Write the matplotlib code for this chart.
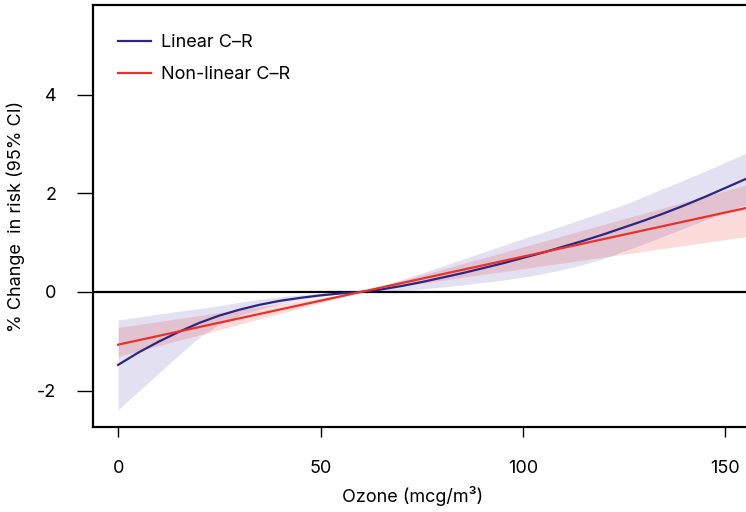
import matplotlib
matplotlib.use("Agg")
import matplotlib.pyplot as plt

plt.rcParams['font.family'] = ['Inter', 'DejaVu Sans']

# ---- data ----
ozone = [0, 5, 10, 15, 20, 25, 30, 35, 40, 45, 50, 55, 60, 65, 70, 75, 80,
         85, 90, 95, 100, 105, 110, 115, 120, 125, 130, 135, 140, 145, 150, 155]
linear_est = [-1.48, -1.23, -1.01, -0.81, -0.63, -0.48, -0.36, -0.26, -0.18, -0.12,
              -0.07, -0.03, 0.00, 0.05, 0.12, 0.20, 0.29, 0.38, 0.48, 0.58, 0.69,
              0.80, 0.92, 1.04, 1.17, 1.31, 1.45, 1.60, 1.76, 1.93, 2.11, 2.29]
linear_hi = [-0.57, -0.51, -0.45, -0.39, -0.34, -0.28, -0.21, -0.15, -0.10, -0.06,
             -0.03, -0.01, 0.00, 0.12, 0.25, 0.38, 0.52, 0.66, 0.80, 0.94, 1.08,
             1.21, 1.35, 1.49, 1.63, 1.77, 1.94, 2.11, 2.28, 2.45, 2.63, 2.81]
linear_lo = [-2.39, -2.02, -1.65, -1.28, -0.92, -0.66, -0.48, -0.35, -0.24, -0.16,
             -0.09, -0.04, 0.00, 0.01, 0.03, 0.06, 0.10, 0.14, 0.19, 0.24, 0.30,
             0.37, 0.46, 0.56, 0.68, 0.83, 0.98, 1.14, 1.30, 1.46, 1.62, 1.77]

ozone_nl = [0, 60, 155]
nonlinear_est = [-1.07, 0.00, 1.70]
nonlinear_hi = [-0.72, 0.00, 2.17]
nonlinear_lo = [-1.31, 0.00, 1.12]

x_ticks = [0, 50, 100, 150]
y_ticks = [-2, 0, 2, 4]
labels = ['Linear C\u2013R', 'Non-linear C\u2013R']

blue = '#2B2680'
red = '#E8312A'
FS = 13

fig = plt.figure(figsize=(7.46, 5.12), dpi=100)
W, H = 746, 512
left_px, right_px, top_px, bot_px = 93, 791, 5, 427
ax = fig.add_axes([left_px / W, 1 - bot_px / H, (right_px - left_px) / W, (bot_px - top_px) / H])
aw = right_px - left_px
ah = bot_px - top_px

ax.fill_between(ozone, linear_lo, linear_hi, color='#7367C0', alpha=0.2, lw=0)
ax.fill_between(ozone_nl, nonlinear_lo, nonlinear_hi, color=red, alpha=0.17, lw=0)
ax.axhline(0, color='black', lw=1.6, zorder=3)
ax.plot(ozone, linear_est, color=blue, lw=1.6, label=labels[0], zorder=4)
ax.plot(ozone_nl, nonlinear_est, color=red, lw=1.6, label=labels[1], zorder=4)

ax.set_xlim(-6.2, 166.2)
ax.set_ylim(-2.74, 5.82)
ax.set_xticks(x_ticks)
ax.set_yticks(y_ticks)
ax.set_yticklabels([str(v) for v in y_ticks])
for s in ax.spines.values():
    s.set_linewidth(1.6)
ax.tick_params(axis='x', direction='out', length=7.5, width=1.0, pad=16, labelsize=FS)
ax.tick_params(axis='y', direction='out', length=11.5, width=1.0, pad=15, labelsize=FS)

ax.set_xlabel('Ozone (mcg/m\u00b3)', fontsize=FS)
ax.xaxis.set_label_coords((413 - left_px) / aw, -(486 - bot_px) / ah)
ax.set_ylabel('% Change  in risk (95% CI)', fontsize=FS)
ax.yaxis.set_label_coords(-(left_px - 25) / aw, 0.5 + 0 / ah)

ax.legend(loc='upper left', frameon=False, fontsize=FS, handlelength=1.8,
          handletextpad=0.55, labelspacing=0.82, borderaxespad=0.0,
          bbox_to_anchor=((118 - left_px - 7) / aw, 1 - (27 - top_px) / ah))

fig.savefig('out.png', dpi=100)
